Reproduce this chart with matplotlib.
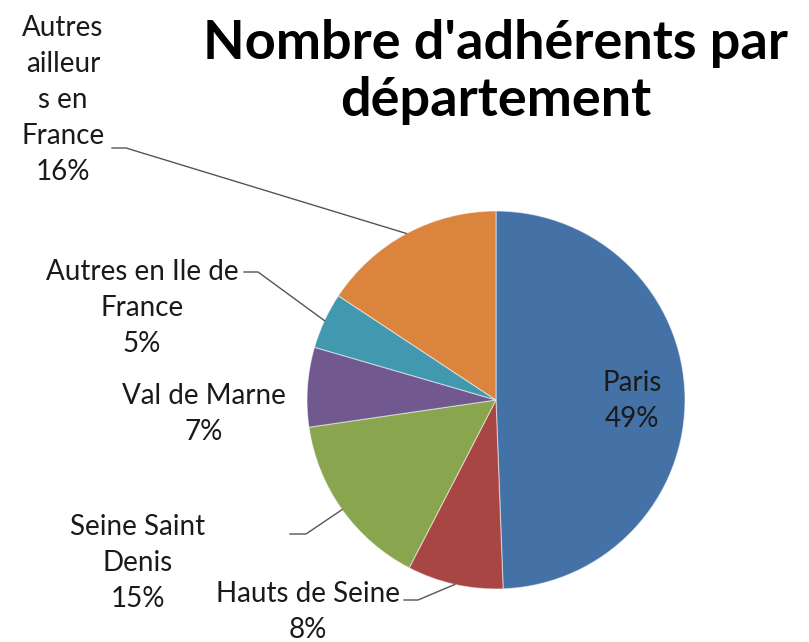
import matplotlib.pyplot as plt
import numpy as np

labels = ['Paris', 'Hauts de Seine', 'Seine Saint Denis', 'Val de Marne',
          'Autres en Ile de France', 'Autres ailleurs en France']
shown = ['Paris', 'Hauts de Seine', 'Seine Saint\nDenis', 'Val de Marne',
         'Autres en Ile de\nFrance', 'Autres\nailleur\ns en\nFrance']
values = [49.4, 8.2, 15.1, 6.8, 4.8, 15.7]
colors = ['#4472A6', '#A84644', '#89A54E', '#71588F', '#4198AF', '#DB843D']

W, H = 809, 642
fig = plt.figure(figsize=(W / 100, H / 100), dpi=100)
ax = fig.add_axes([0, 0, 1, 1])

cx, cy, r = 496, H - 400, 189
wedges, _ = ax.pie(values, colors=colors, startangle=90, counterclock=False,
                   center=(cx, cy), radius=r, frame=True,
                   wedgeprops=dict(edgecolor=(1, 1, 1, 0.5), linewidth=0.8))
ax.set_xlim(0, W)
ax.set_ylim(0, H)
ax.set_aspect('equal')
ax.axis('off')

font = 'Lato'
fs = 20
pct = [f'{round(v):d}%' for v in values]

# label placement (text centre in px from top) and leader elbow
place = {
    0: (632, 401, None),
    1: (308, 612, (404, 600, 418)),
    2: (138, 563, (290, 534, 306)),
    3: (204, 414, None),
    4: (142, 308, (244, 272, 258)),
    5: (63, 100, (112, 148, 126)),
}

for i, w in enumerate(wedges):
    tx, ty, lead = place[i]
    ax.text(tx, H - ty, shown[i] + '\n' + pct[i], ha='center', va='center',
            fontsize=fs, family=font, color='#1a1a1a', linespacing=1.47)
    if lead:
        ang = np.deg2rad((w.theta1 + w.theta2) / 2)
        ex, ey = cx + r * np.cos(ang), cy + r * np.sin(ang)
        x0, y0, x1 = lead
        ax.plot([x0, x1, ex], [H - y0, H - y0, ey], color='#555555', lw=1.0)

ax.text(496, H - 72, "Nombre d'adhérents par\ndépartement", ha='center',
        va='center', fontsize=39, fontweight='bold', family=font,
        color='black', linespacing=1.22)

fig.savefig('out.png', dpi=100, facecolor='white')
